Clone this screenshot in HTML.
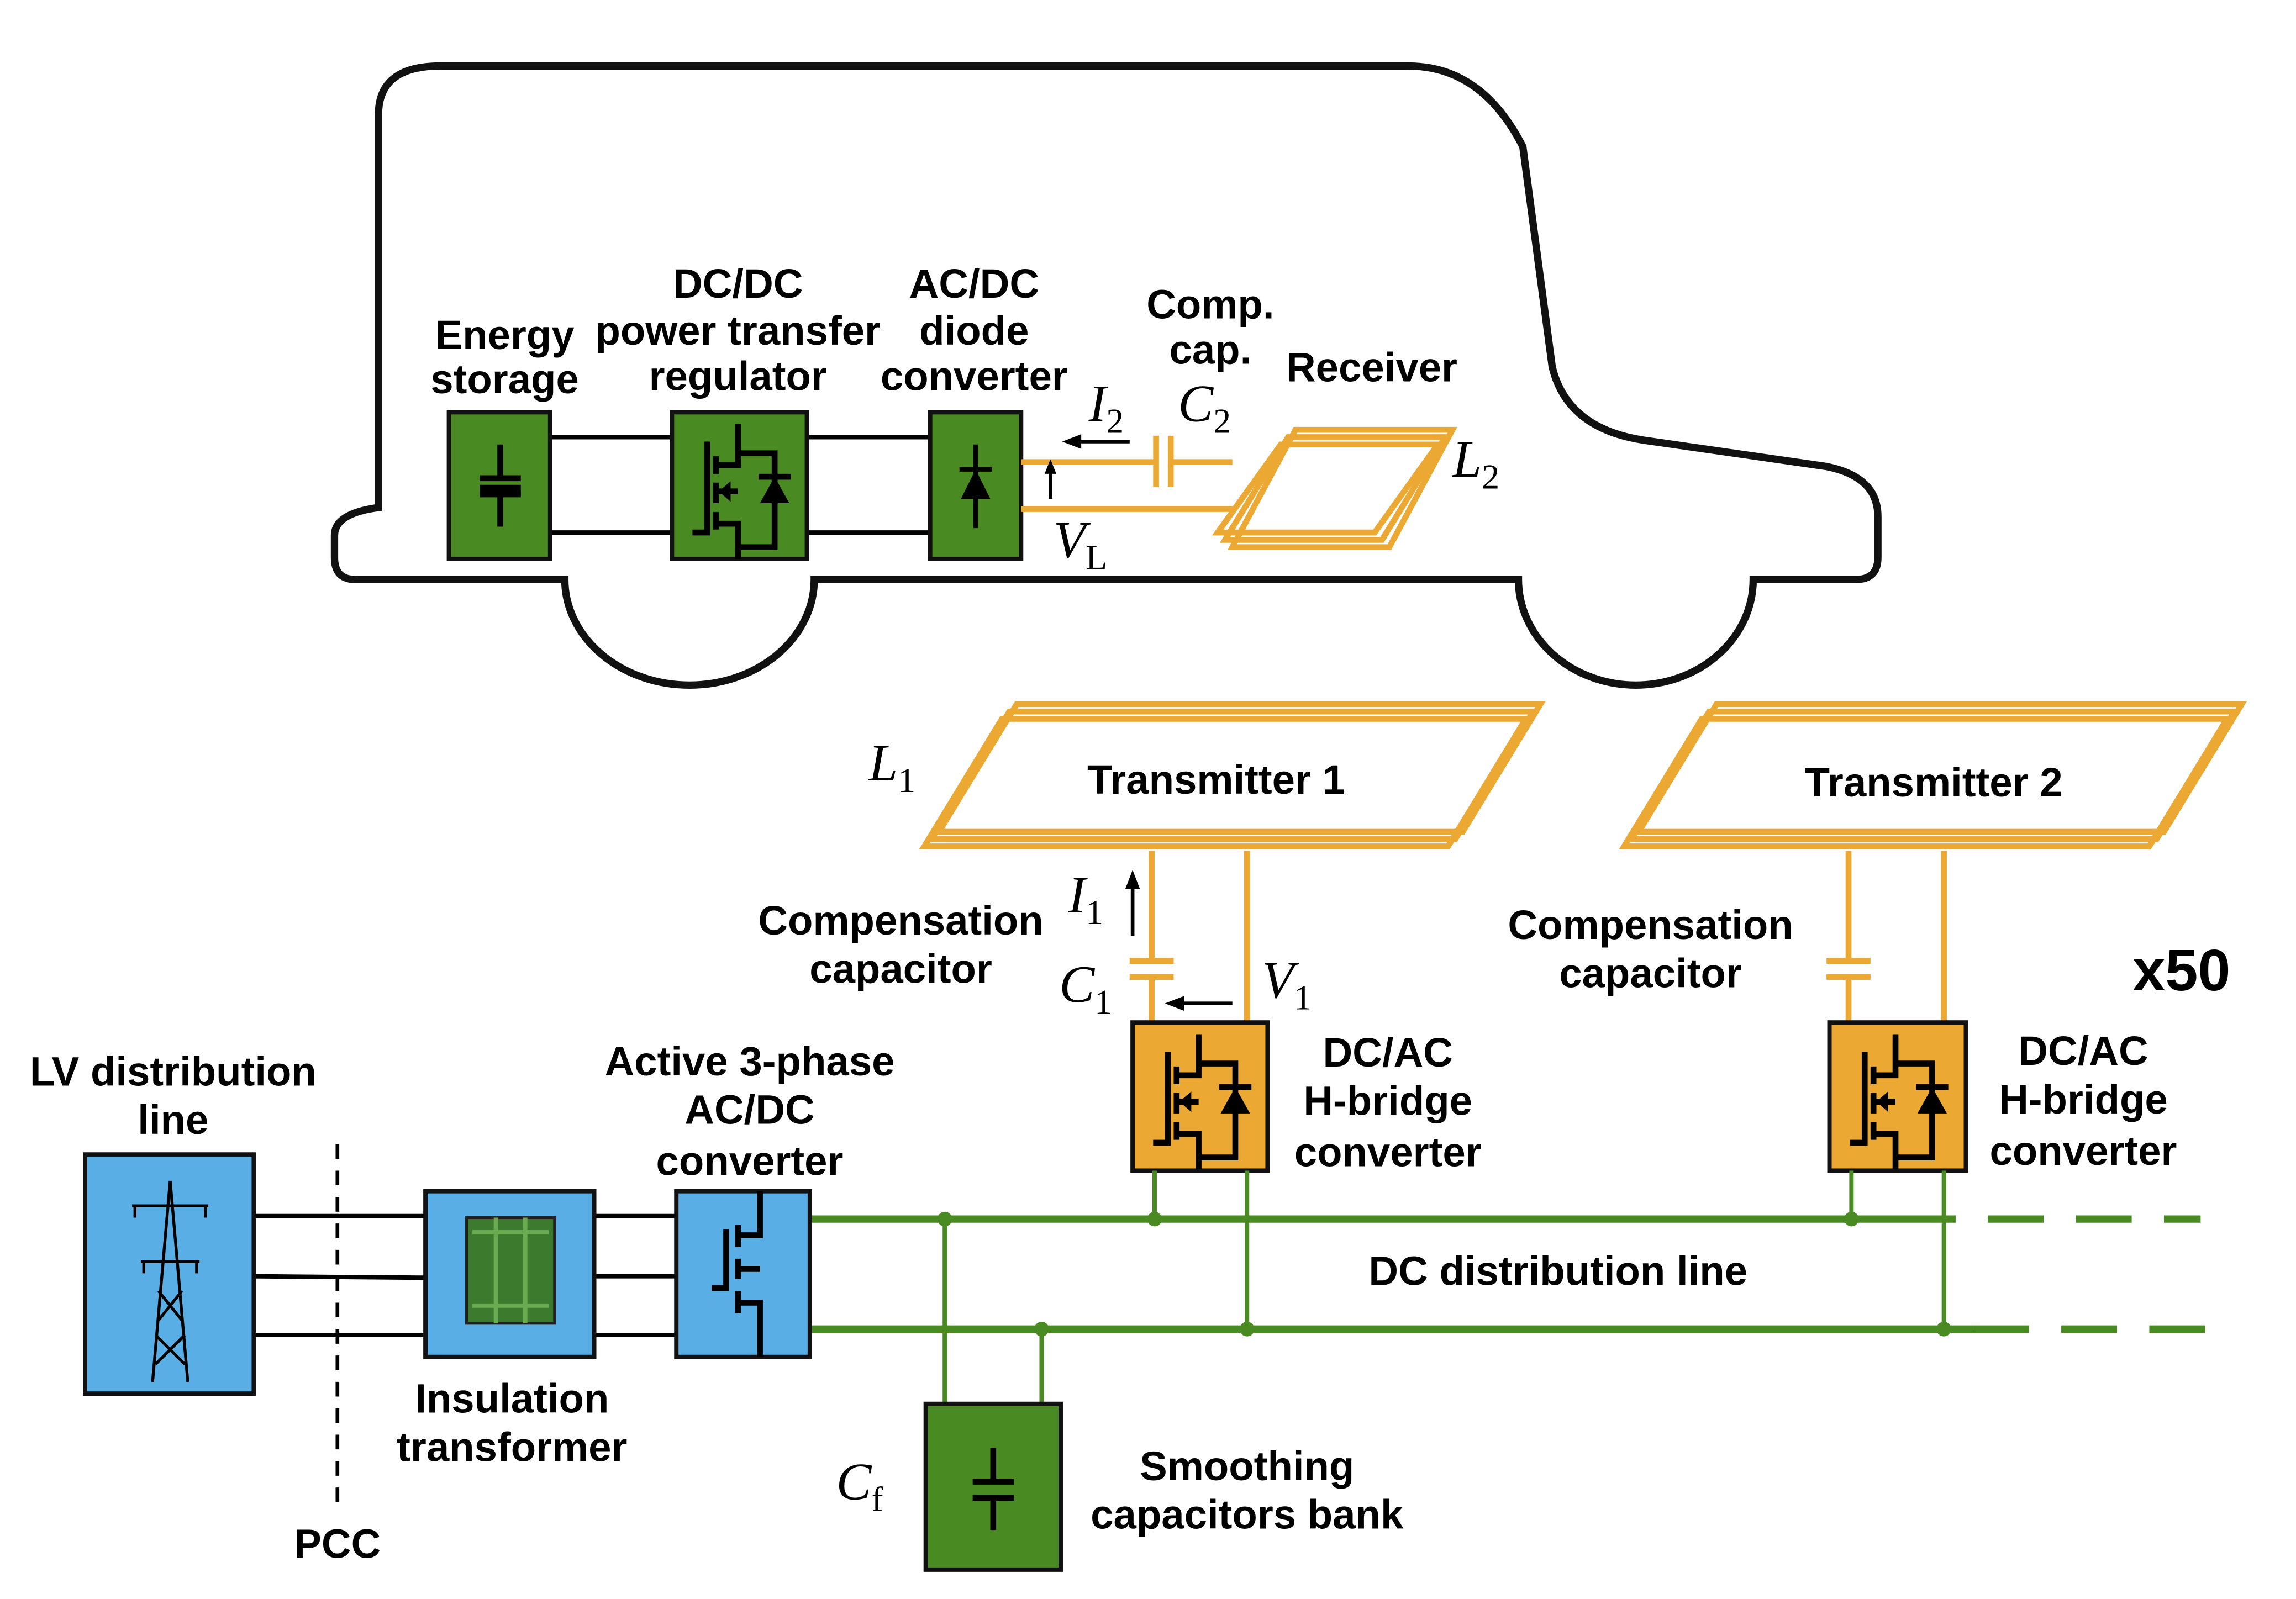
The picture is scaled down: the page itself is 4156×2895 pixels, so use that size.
<!DOCTYPE html>
<html><head><meta charset="utf-8"><style>
html,body{margin:0;padding:0;background:#fff}
svg{display:block}
.t{font-family:"Liberation Sans",sans-serif;font-weight:bold;font-size:28px;fill:#000;text-anchor:middle}
.m{font-family:"Liberation Serif",serif;font-style:italic;font-size:36px;fill:#000}
.s{font-family:"Liberation Serif",serif;font-style:normal;font-size:24px}
</style></head><body>
<svg width="4156" height="2895" viewBox="0 0 1565 1090" preserveAspectRatio="none" xmlns="http://www.w3.org/2000/svg">
<defs>
<g id="mos">
 <path d="M-28,32 H-18 V-30 M-12,-20 V-8 M-12,-2 V12 M-12,18 V30 M-12,-14 H3 V-42 M-12,26 H3 V50 M3,-22 H28 V42 H3 M-12,4 H3" stroke="#000" stroke-width="4" fill="none"/>
 <path d="M-10,4 L-2,-3 V11 Z" fill="#000"/>
 <path d="M18,12 L28,-6 L38,12 Z" fill="#000"/>
 <path d="M17,-6 H39" stroke="#000" stroke-width="4"/>
</g>
<g id="capv"><path d="M0,-28 V-5 M-14,-5 H14 M-14,6 H14 M0,6 V28" stroke="#000" stroke-width="4" fill="none"/></g>
</defs>

<!-- van -->
<path d="M258,78 Q258,45 300,45 L960,45 Q1010,45 1038,100 L1058,250 Q1068,292 1120,300 L1245,318 Q1280,325 1280,352 L1280,380 Q1280,395 1265,395 L1195,395 A80,72 0 0 1 1035,395 L555,395 A85,72 0 0 1 385,395 L242,395 Q228,395 228,380 L228,365 Q228,350 258,346 Z" fill="#fff" stroke="#111" stroke-width="5"/>

<!-- vehicle blocks -->
<g stroke="#000" stroke-width="3">
<line x1="375" y1="298" x2="458" y2="298"/><line x1="375" y1="363" x2="458" y2="363"/>
<line x1="550" y1="298" x2="634" y2="298"/><line x1="550" y1="363" x2="634" y2="363"/>
</g>
<rect x="306" y="281" width="69" height="100" fill="#4a8a22" stroke="#111" stroke-width="3"/>
<use href="#capv" x="341" y="331"/>
<path d="M327,334 H355" stroke="#000" stroke-width="7"/>
<rect x="458" y="281" width="92" height="100" fill="#4a8a22" stroke="#111" stroke-width="3"/>
<use href="#mos" x="500" y="331"/>
<rect x="634" y="281" width="62" height="100" fill="#4a8a22" stroke="#111" stroke-width="3"/>
<path d="M665,303 V360 M654,320 H676" stroke="#000" stroke-width="3"/>
<path d="M655,340 L665,320 L675,340 Z" fill="#000"/>

<text class="t" x="344" y="238">Energy</text><text class="t" x="344" y="268">storage</text>
<text class="t" x="503" y="203">DC/DC</text><text class="t" x="503" y="235">power transfer</text><text class="t" x="503" y="266">regulator</text>
<text class="t" x="664" y="203">AC/DC</text><text class="t" x="664" y="235">diode</text><text class="t" x="664" y="266">converter</text>
<text class="t" x="825" y="217">Comp.</text><text class="t" x="825" y="248">cap.</text>
<text class="t" x="935" y="260">Receiver</text>

<g stroke="#eba832" stroke-width="4" fill="none">
<path d="M696,315 H788 M798,315 H840 M696,347 H840"/>
<path d="M788,297 V332 M798,297 V332"/>
<path d="M835,368 L878,298 L985,298 L942,368 Z"/>
<path d="M840,373 L883,293 L990,293 L947,373 Z"/>
<path d="M830,363 L873,303 L980,303 L937,363 Z"/>
</g>
<path d="M770,301 H735" stroke="#000" stroke-width="2.5"/><path d="M724,301 L737,296 V306 Z" fill="#000"/>
<path d="M716,340 V320" stroke="#000" stroke-width="2.5"/><path d="M716,313 L712,323 H720 Z" fill="#000"/>
<text class="m" x="742" y="287">I<tspan class="s" dy="8">2</tspan></text>
<text class="m" x="803" y="287">C<tspan class="s" dy="8">2</tspan></text>
<text class="m" x="990" y="325">L<tspan class="s" dy="8">2</tspan></text>
<text class="m" x="718" y="380">V<tspan class="s" dy="8">L</tspan></text>

<!-- transmitters -->
<g stroke="#eba832" stroke-width="4" fill="none">
<path d="M630,577 L683,490 L1040,490 L987,577 Z"/>
<path d="M635,572 L688,485 L1045,485 L992,572 Z"/>
<path d="M640,567 L693,480 L1050,480 L997,567 Z"/>
<path d="M1107,577 L1160,490 L1518,490 L1465,577 Z"/>
<path d="M1112,572 L1165,485 L1523,485 L1470,572 Z"/>
<path d="M1117,567 L1170,480 L1528,480 L1475,567 Z"/>
<path d="M785,580 V655 M785,666 V697 M770,655 H800 M770,666 H800 M850,580 V697"/>
<path d="M1260,580 V655 M1260,666 V697 M1245,655 H1275 M1245,666 H1275 M1325,580 V697"/>
</g>
<text class="t" x="829" y="541">Transmitter 1</text>
<text class="t" x="1318" y="543">Transmitter 2</text>
<text class="m" x="592" y="532">L<tspan class="s" dy="8">1</tspan></text>
<text class="m" x="728" y="622">I<tspan class="s" dy="8">1</tspan></text>
<text class="m" x="722" y="683">C<tspan class="s" dy="8">1</tspan></text>
<text class="m" x="860" y="680">V<tspan class="s" dy="8">1</tspan></text>
<path d="M772,638 V603" stroke="#000" stroke-width="2.5"/><path d="M772,593 L767,606 H777 Z" fill="#000"/>
<path d="M840,684 H805" stroke="#000" stroke-width="2.5"/><path d="M794,684 L807,679 V689 Z" fill="#000"/>
<text class="t" x="614" y="637">Compensation</text><text class="t" x="614" y="670">capacitor</text>
<text class="t" x="1125" y="640">Compensation</text><text class="t" x="1125" y="673">capacitor</text>
<text class="t" x="1487" y="675" style="font-size:40px">x50</text>

<rect x="772" y="697" width="92" height="101" fill="#eba832" stroke="#111" stroke-width="3"/>
<use href="#mos" x="814" y="747"/>
<rect x="1247" y="697" width="93" height="101" fill="#eba832" stroke="#111" stroke-width="3"/>
<use href="#mos" x="1289" y="747"/>
<text class="t" x="946" y="727">DC/AC</text><text class="t" x="946" y="760">H-bridge</text><text class="t" x="946" y="795">converter</text>
<text class="t" x="1420" y="726">DC/AC</text><text class="t" x="1420" y="759">H-bridge</text><text class="t" x="1420" y="794">converter</text>

<!-- DC lines -->
<g stroke="#4a8a22" fill="none">
<path d="M553,831 H1295 M553,906 H1345" stroke-width="5"/>
<path d="M1295,831 H1500 M1345,906 H1522" stroke-width="5" stroke-dasharray="38,22"/>
<path d="M787,798 V831 M850,798 V906 M1262,798 V831 M1325,798 V906 M644,831 V958 M710,906 V958" stroke-width="3"/>
</g>
<g fill="#4a8a22">
<circle cx="644" cy="831" r="5"/><circle cx="787" cy="831" r="5"/><circle cx="1262" cy="831" r="5"/>
<circle cx="710" cy="906" r="5"/><circle cx="850" cy="906" r="5"/><circle cx="1325" cy="906" r="5"/>
</g>
<text class="t" x="1062" y="876">DC distribution line</text>

<rect x="631" y="957" width="92" height="113" fill="#4a8a22" stroke="#111" stroke-width="3"/>
<use href="#capv" x="677" y="1015"/>
<text class="m" x="570" y="1022">C<tspan class="s" dy="8">f</tspan></text>
<text class="t" x="850" y="1009">Smoothing</text><text class="t" x="850" y="1042">capacitors bank</text>

<!-- left side -->
<g stroke="#000" stroke-width="3">
<line x1="173" y1="829" x2="290" y2="829"/><line x1="173" y1="870" x2="290" y2="871"/><line x1="173" y1="910" x2="290" y2="910"/>
<line x1="405" y1="829" x2="461" y2="829"/><line x1="405" y1="870" x2="461" y2="870"/><line x1="405" y1="910" x2="461" y2="910"/>
</g>
<path d="M230,780 V1030" stroke="#000" stroke-width="2.5" stroke-dasharray="10,8"/>
<rect x="58" y="787" width="115" height="163" fill="#5aaee6" stroke="#111" stroke-width="3"/>
<g stroke="#000" stroke-width="2" fill="none">
<path d="M104,942 L116,805 L128,942 M90,822 H142 M96,860 H136 M108,880 L124,900 M124,880 L108,900 M106,910 L126,930 M126,910 L106,930 M92,822 V830 M140,822 V830 M98,860 V868 M134,860 V868"/>
</g>
<rect x="290" y="812" width="115" height="113" fill="#5aaee6" stroke="#111" stroke-width="3"/>
<rect x="318" y="830" width="60" height="72" fill="#3c7a2e" stroke="#222" stroke-width="2"/>
<path d="M322,840 H374 M322,890 H374 M338,830 V902 M358,830 V902" stroke="#6aaa50" stroke-width="3"/>
<rect x="461" y="812" width="91" height="113" fill="#5aaee6" stroke="#111" stroke-width="3"/>
<path d="M485,878 H495 V838 M503,835 V850 M503,858 V872 M503,880 V895 M503,842 H518 V812 M503,888 H518 V925 M503,865 H518" stroke="#000" stroke-width="4" fill="none"/>
<text class="t" x="118" y="740">LV distribution</text><text class="t" x="118" y="773">line</text>
<text class="t" x="511" y="733">Active 3-phase</text><text class="t" x="511" y="766">AC/DC</text><text class="t" x="511" y="801">converter</text>
<text class="t" x="349" y="963">Insulation</text><text class="t" x="349" y="996">transformer</text>
<text class="t" x="230" y="1062">PCC</text>
</svg>
</body></html>
